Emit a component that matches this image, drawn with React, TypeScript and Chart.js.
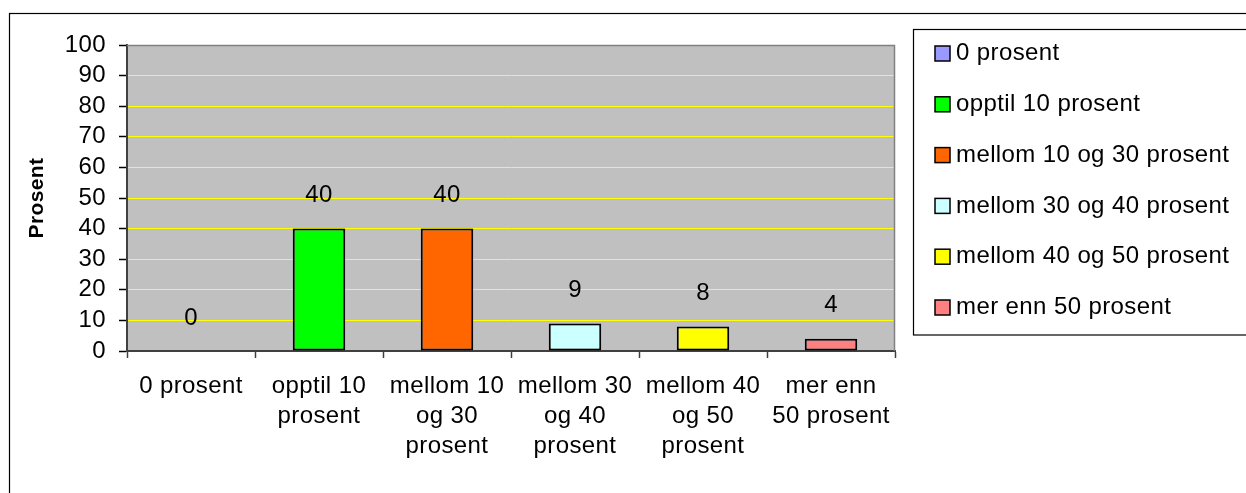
import React, { useEffect, useRef } from 'react';
import { Chart, registerables } from 'chart.js';

Chart.register(...registerables);

// ---- data ----
const categoryLines: string[][] = [
  ['0 prosent'],
  ['opptil 10', 'prosent'],
  ['mellom 10', 'og 30', 'prosent'],
  ['mellom 30', 'og 40', 'prosent'],
  ['mellom 40', 'og 50', 'prosent'],
  ['mer enn', '50 prosent'],
];
const legendLabels: string[] = [
  '0 prosent',
  'opptil 10 prosent',
  'mellom 10 og 30 prosent',
  'mellom 30 og 40 prosent',
  'mellom 40 og 50 prosent',
  'mer enn 50 prosent',
];
const values: number[] = [0, 40, 40, 9, 8, 4];
const barColors: string[] = ['#9999FF', '#00FF00', '#FF6600', '#CCFFFF', '#FFFF00', '#FF8080'];
const yMin = 0;
const yMax = 100;
const yStep = 10;
const yTitle = 'Prosent';

const FONT = "'Liberation Sans', Arial, Helvetica, sans-serif";
const SPACING = '0.4px';
const FS = 24;

const excelPlugin = {
  id: 'excelStyle',
  beforeUpdate(chart: any) {
    chart.ctx.letterSpacing = SPACING;
  },
  beforeDraw(chart: any) {
    const { ctx, chartArea: a } = chart;
    ctx.save();
    ctx.fillStyle = '#FFFFFF';
    ctx.fillRect(0, 0, chart.width, chart.height);
    ctx.fillStyle = '#C0C0C0';
    ctx.fillRect(a.left, a.top, a.right - a.left, a.bottom - a.top);
    ctx.restore();
    ctx.letterSpacing = SPACING;
  },
  beforeDatasetsDraw(chart: any) {
    const { ctx, chartArea: a } = chart;
    ctx.save();
    ctx.strokeStyle = '#808080';
    ctx.lineWidth = 1.5;
    ctx.beginPath();
    ctx.moveTo(a.left, a.top + 0.5);
    ctx.lineTo(a.right - 0.5, a.top + 0.5);
    ctx.lineTo(a.right - 0.5, a.bottom);
    ctx.stroke();
    ctx.restore();
  },
  afterDatasetsDraw(chart: any) {
    const { ctx } = chart;
    const meta = chart.getDatasetMeta(0);
    ctx.save();
    ctx.letterSpacing = SPACING;
    ctx.font = `${FS}px ${FONT}`;
    ctx.fillStyle = '#000';
    ctx.textAlign = 'center';
    ctx.textBaseline = 'middle';
    meta.data.forEach((bar: any, i: number) => {
      ctx.fillText(String(values[i]), bar.x, bar.y - 33);
    });
    ctx.restore();
  },
  afterDraw(chart: any) {
    const { ctx } = chart;
    ctx.save();
    // outer chart border
    ctx.strokeStyle = '#000';
    ctx.lineWidth = 1.2;
    ctx.strokeRect(9.5, 13.5, 1400, 700);
    // legend box
    const lx = 913.5;
    const ly = 29.5;
    ctx.strokeRect(lx, ly, 500, 305.5);
    ctx.letterSpacing = SPACING;
    ctx.font = `${FS}px ${FONT}`;
    ctx.textAlign = 'left';
    ctx.textBaseline = 'middle';
    legendLabels.forEach((lab, i) => {
      const cy = 53.5 + i * 50.8;
      ctx.fillStyle = barColors[i];
      ctx.fillRect(935, cy - 7.5, 15, 15);
      ctx.strokeStyle = '#000';
      ctx.lineWidth = 1.5;
      ctx.strokeRect(935, cy - 7.5, 15, 15);
      ctx.fillStyle = '#000';
      ctx.fillText(lab, 956, cy);
    });
    ctx.restore();
  },
};

export default function App() {
  const ref = useRef<HTMLCanvasElement | null>(null);

  useEffect(() => {
    if (!ref.current) return;
    const chart = new Chart(ref.current, {
      type: 'bar',
      data: {
        labels: categoryLines,
        datasets: [
          {
            label: yTitle,
            data: values,
            backgroundColor: barColors,
            borderColor: '#000000',
            borderWidth: 2,
            borderSkipped: false,
            categoryPercentage: 1,
            barPercentage: 0.41,
          },
        ],
      },
      options: {
        animation: false,
        responsive: false,
        maintainAspectRatio: false,
        events: [],
        layout: { padding: { left: 0, top: 45, right: 351, bottom: 0 } },
        plugins: {
          legend: { display: false },
          tooltip: { enabled: false },
          title: { display: false },
        },
        scales: {
          x: {
            offset: true,
            grid: {
              offset: true,
              drawOnChartArea: false,
              drawTicks: true,
              tickLength: 7,
              tickColor: '#404040',
              tickWidth: 1.5,
            },
            border: { display: true, color: '#404040', width: 2 },
            ticks: {
              autoSkip: false,
              maxRotation: 0,
              minRotation: 0,
              padding: 13,
              color: '#000',
              font: { family: FONT, size: FS, lineHeight: 30 / FS },
            },
            afterFit(scale: any) {
              scale.height = 493 - 351;
            },
          },
          y: {
            min: yMin,
            max: yMax,
            ticks: {
              stepSize: yStep,
              autoSkip: false,
              padding: 13,
              color: '#000',
              font: { family: FONT, size: FS },
            },
            grid: {
              color: '#FFFF00',
              lineWidth: 1,
              tickLength: 8,
              tickColor: '#000',
              tickWidth: 1.5,
            },
            border: { display: true, color: '#404040', width: 2 },
            title: {
              display: true,
              text: yTitle,
              color: '#000',
              padding: { top: 25, bottom: 0 },
              font: { family: FONT, size: 21, weight: 'bold', lineHeight: 1.2 },
            },
            afterFit(scale: any) {
              scale.width = 127;
            },
          },
        },
      },
      plugins: [excelPlugin],
    });
    return () => chart.destroy();
  }, []);

  return (
    <div style={{ position: 'absolute', left: 0, top: 0, width: 1246, height: 493, background: '#fff' }}>
      <canvas ref={ref} width={1246} height={493} style={{ display: 'block' }} />
    </div>
  );
}
